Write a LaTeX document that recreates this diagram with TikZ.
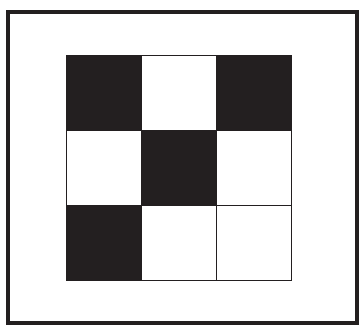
\documentclass[tikz,border=0pt]{standalone}
\usepackage{xcolor}
\definecolor{ink}{HTML}{231F20}
\usepackage{tikz}

\begin{document}
\begin{tikzpicture}[x=1pt, y=-1pt,
  frame/.style={draw=ink, line width=4pt},
  cell/.style={rectangle, draw=ink, line width=0.9pt, minimum size=75pt, inner sep=0pt, outer sep=0pt},
  dark/.style={cell, fill=ink},
  light/.style={cell, fill=white},
]
\useasboundingbox (0,0) rectangle (360,325);

% Outer frame
\draw[frame] (8.5,11.5) rectangle (357.5,323);

% 3x3 pattern
\foreach \r/\c/\s in {0/0/dark, 0/1/light, 0/2/dark,
                      1/0/light, 1/1/dark, 1/2/light,
                      2/0/dark, 2/1/light, 2/2/light}
  \node[\s] (cell-\r-\c) at (103.5+75*\c, 92.5+75*\r) {};

\end{tikzpicture}
\end{document}
